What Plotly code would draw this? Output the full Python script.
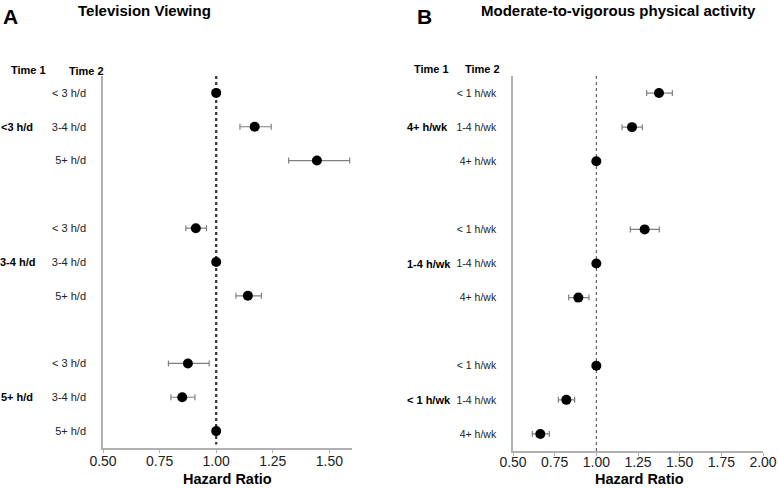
import plotly.graph_objects as go

# ---------------- Data ----------------
tv_time1 = ["<3 h/d", "3-4 h/d", "5+ h/d"]
tv_time2 = ["< 3 h/d", "3-4 h/d", "5+ h/d"]
tv_hr = [1.00, 1.17, 1.445, 0.91, 1.00, 1.14, 0.875, 0.85, 1.00]
tv_lo = [1.00, 1.105, 1.32, 0.866, 1.00, 1.087, 0.789, 0.80, 1.00]
tv_hi = [1.00, 1.243, 1.59, 0.957, 1.00, 1.20, 0.969, 0.906, 1.00]

pa_time1 = ["4+ h/wk", "1-4 h/wk", "< 1 h/wk"]
pa_time2 = ["< 1 h/wk", "1-4 h/wk", "4+ h/wk"]
pa_hr = [1.376, 1.214, 1.00, 1.29, 1.00, 0.892, 1.00, 0.82, 0.664]
pa_lo = [1.302, 1.154, 1.00, 1.204, 1.00, 0.834, 1.00, 0.772, 0.616]
pa_hi = [1.456, 1.276, 1.00, 1.378, 1.00, 0.956, 1.00, 0.87, 0.718]

x_ticks_a = [0.50, 0.75, 1.00, 1.25, 1.50]
x_ticks_b = [0.50, 0.75, 1.00, 1.25, 1.50, 1.75, 2.00]

# row slots: 3 groups of 3 with an empty slot between groups
slots = [0, 1, 2, 4, 5, 6, 8, 9, 10]
group_mid = [1, 5, 9]

FONT = "Liberation Sans, Arial, sans-serif"
fig = go.Figure()

def add_panel(hr, lo, hi, xa, ya):
    fig.add_trace(go.Scatter(
        x=hr, y=slots, mode="markers", xaxis=xa, yaxis=ya,
        marker=dict(color="black", size=10),
        error_x=dict(type="data", symmetric=False,
                     array=[h - m for h, m in zip(hi, hr)],
                     arrayminus=[m - l for m, l in zip(hr, lo)],
                     color="#808080", thickness=1.2, width=3),
        showlegend=False, hoverinfo="skip"))

add_panel(tv_hr, tv_lo, tv_hi, "x", "y")
add_panel(pa_hr, pa_lo, pa_hi, "x2", "y2")

# reference lines at HR = 1
fig.add_shape(type="line", xref="x", yref="y", x0=1, x1=1, y0=-0.5, y1=10.4,
              line=dict(color="#333333", width=2.2, dash="dot"), layer="below")
fig.add_shape(type="line", xref="x2", yref="y2", x0=1, x1=1, y0=-0.5, y1=10.5,
              line=dict(color="#444444", width=1, dash="dot"), layer="below")

axis_common = dict(showgrid=False, zeroline=False, showline=True,
                   linecolor="#b0b0b0", linewidth=1.5, automargin=False)

tv_ticktext = tv_time2 * 3
pa_ticktext = pa_time2 * 3

fig.update_layout(
    width=778, height=488,
    margin=dict(l=0, r=0, t=0, b=0, autoexpand=False),
    paper_bgcolor="white", plot_bgcolor="white",
    font=dict(family=FONT, color="black"),
    xaxis=dict(domain=[103/778, 352/778], range=[0.5, 1.6], anchor="y",
               tickvals=x_ticks_a, ticktext=[f"{v:.2f}" for v in x_ticks_a],
               ticks="outside", ticklen=3, tickcolor="#b0b0b0",
               ticklabelstandoff=-4,
               tickfont=dict(size=14, color="#222222"),
               **axis_common),
    yaxis=dict(domain=[1 - 448/488, 1 - 76/488], range=[10.5, -0.5], anchor="x",
               tickvals=slots, ticktext=tv_ticktext, ticks="",
               ticklabelstandoff=13,
               tickfont=dict(size=11, color="#222222"),
               **axis_common),
    xaxis2=dict(domain=[513/778, 763/778], range=[0.5, 2.0], anchor="y2",
                tickvals=x_ticks_b, ticktext=[f"{v:.2f}" for v in x_ticks_b],
                ticks="outside", ticklen=3, tickcolor="#b0b0b0",
                ticklabelstandoff=-6,
                tickfont=dict(size=14, color="#222222"),
                **axis_common),
    yaxis2=dict(domain=[1 - 451/488, 1 - 76/488], range=[10.5, -0.5], anchor="x2",
                tickvals=slots, ticktext=pa_ticktext, ticks="",
                ticklabelstandoff=13,
                tickfont=dict(size=10.5, color="#222222"),
                **axis_common),
)

ann = []
# Panel letters and titles
ann.append(dict(text="<b>A</b>", x=1, y=3, font=dict(size=21)))
ann.append(dict(text="<b>Television Viewing</b>", x=76, y=0, font=dict(size=15)))
ann.append(dict(text="<b>B</b>", x=415, y=3, font=dict(size=21)))
ann.append(dict(text="<b>Moderate-to-vigorous physical activity</b>", x=479, y=0, font=dict(size=15)))
# headers
ann.append(dict(text="<b>Time 1</b>", x=9, y=62, font=dict(size=11)))
ann.append(dict(text="<b>Time 2</b>", x=67, y=63, font=dict(size=11)))
ann.append(dict(text="<b>Time 1</b>", x=412, y=61, font=dict(size=11)))
ann.append(dict(text="<b>Time 2</b>", x=463, y=61, font=dict(size=11)))

annotations = []
for a in ann:
    annotations.append(dict(text=a["text"], xref="paper", yref="paper",
                            x=a["x"]/778, y=1 - a["y"]/488,
                            xanchor="left", yanchor="top", showarrow=False,
                            font=dict(family=FONT, color="black", **a["font"])))
# axis titles
for cx in [227, 639]:
    annotations.append(dict(text="<b>Hazard Ratio</b>", xref="paper", yref="paper",
                            x=cx/778, y=0, xanchor="center", yanchor="bottom",
                            borderpad=0,
                            showarrow=False, font=dict(family=FONT, size=14.5, color="black")))
# Time 1 group labels (placed at middle row of each group via data y)
for lab, ym in zip(tv_time1, group_mid):
    annotations.append(dict(text=f"<b>{lab}</b>", xref="paper", yref="y",
                            x=17/778, y=ym, xanchor="center", yanchor="middle",
                            showarrow=False, font=dict(family=FONT, size=11, color="black")))
for lab, ym in zip(pa_time1, group_mid):
    annotations.append(dict(text=f"<b>{lab}</b>", xref="paper", yref="y2",
                            x=405/778, y=ym, xanchor="left", yanchor="middle",
                            showarrow=False, font=dict(family=FONT, size=11, color="black")))
fig.update_layout(annotations=annotations)

fig.write_html("out.html",
               config={"displayModeBar": False},
               post_script="document.body.style.margin='0';document.body.style.padding='0';")
